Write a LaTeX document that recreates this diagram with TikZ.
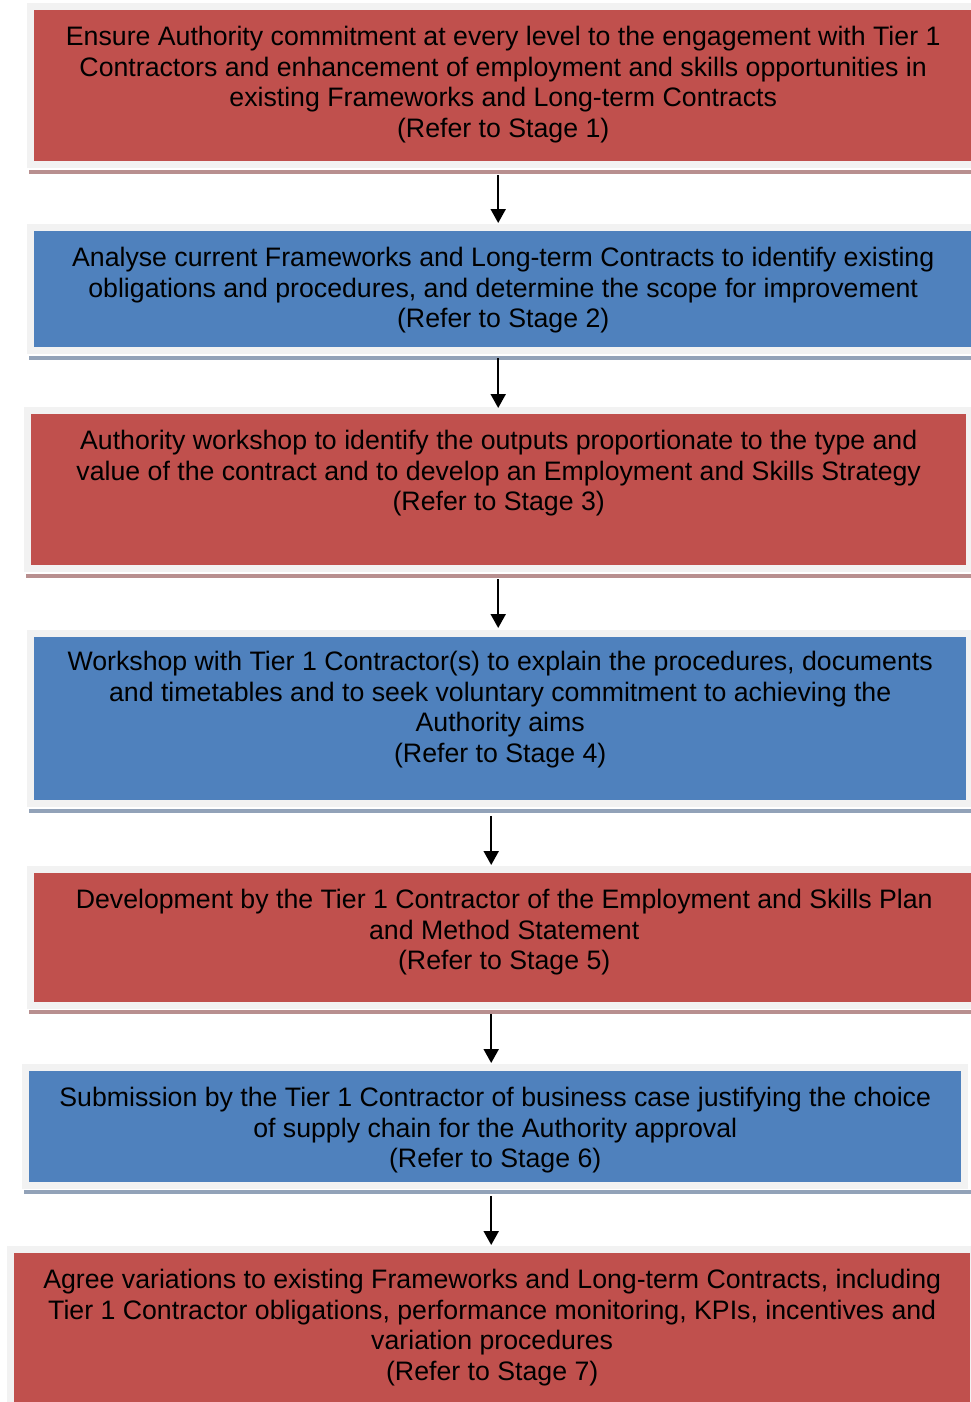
\documentclass[tikz,border=0pt]{standalone}
\usepackage{fontspec}
\setmainfont{Liberation Sans}
\usepackage{xcolor}
\usetikzlibrary{calc,arrows.meta}
\definecolor{stagered}{HTML}{C0504D}
\definecolor{stageblue}{HTML}{4F81BD}
\definecolor{framegray}{HTML}{F2F2F2}
\definecolor{shadowred}{RGB}{184,143,143}
\definecolor{shadowblue}{RGB}{146,162,184}
\tikzstyle{redbox} = [rectangle, anchor=north west, inner sep=0pt, fill=stagered, preaction={draw=framegray, line width=14pt}]
\tikzstyle{bluebox} = [rectangle, anchor=north west, inner sep=0pt, fill=stageblue, preaction={draw=framegray, line width=14pt}]
\tikzstyle{stagetext} = [anchor=north, inner sep=0pt, align=center, text=black, font=\fontsize{26.7}{30.5}\selectfont]
\tikzstyle{arrow} = [line width=2pt, -{Triangle[width=15pt,length=14pt]}]

\begin{document}
\begin{tikzpicture}[x=1pt,y=-1pt]
	\useasboundingbox (0,0) rectangle (970,1402);

	% shadows under the frames
	\fill[shadowred] (29,170) rectangle (980,174);
	\fill[shadowblue] (29,356) rectangle (980,360);
	\fill[shadowred] (26,574) rectangle (980,578);
	\fill[shadowblue] (29,809) rectangle (980,813);
	\fill[shadowred] (29,1010) rectangle (980,1014);
	\fill[shadowblue] (24,1190) rectangle (980,1194);

	\node (s1) [redbox, minimum width=938pt, minimum height=151pt] at (34,10) {};
	\node (s2) [bluebox, minimum width=938pt, minimum height=116pt] at (34,231) {};
	\node (s3) [redbox, minimum width=935pt, minimum height=151pt] at (31,414) {};
	\node (s4) [bluebox, minimum width=932pt, minimum height=163pt] at (34,637) {};
	\node (s5) [redbox, minimum width=940pt, minimum height=129pt] at (34,873) {};
	\node (s6) [bluebox, minimum width=932pt, minimum height=111pt] at (29,1071) {};
	\node (s7) [redbox, minimum width=956pt, minimum height=160pt] at (14,1253) {};

	\node (t1) [stagetext] at ($(s1.north)+(0,16)$) {Ensure Authority commitment at every level to the engagement with Tier 1\\Contractors and enhancement of employment and skills opportunities in\\existing Frameworks and Long-term Contracts\\(Refer to Stage 1)};
	\node (t2) [stagetext] at ($(s2.north)+(0,16)$) {Analyse current Frameworks and Long-term Contracts to identify existing\\obligations and procedures, and determine the scope for improvement\\(Refer to Stage 2)};
	\node (t3) [stagetext] at ($(s3.north)+(0,16)$) {Authority workshop to identify the outputs proportionate to the type and\\value of the contract and to develop an Employment and Skills Strategy\\(Refer to Stage 3)};
	\node (t4) [stagetext] at ($(s4.north)+(0,14)$) {Workshop with Tier 1 Contractor(s) to explain the procedures, documents\\and timetables and to seek voluntary commitment to achieving the\\Authority aims\\(Refer to Stage 4)};
	\node (t5) [stagetext] at ($(s5.north)+(0,16)$) {Development by the Tier 1 Contractor of the Employment and Skills Plan\\and Method Statement\\(Refer to Stage 5)};
	\node (t6) [stagetext] at ($(s6.north)+(0,16)$) {Submission by the Tier 1 Contractor of business case justifying the choice\\of supply chain for the Authority approval\\(Refer to Stage 6)};
	\node (t7) [stagetext] at ($(s7.north)+(0,16)$) {Agree variations to existing Frameworks and Long-term Contracts, including\\Tier 1 Contractor obligations, performance monitoring, KPIs, incentives and\\variation procedures\\(Refer to Stage 7)};

	\draw [arrow] ($(s1.south)+(-5,14)$) -- ($(s2.north)+(-5,-8)$);
	\draw [arrow] ($(s2.south)+(-5,11)$) -- ($(s3.north)+(-0.5,-6)$);
	\draw [arrow] ($(s3.south)+(-0.5,14)$) -- ($(s4.north)+(-2,-9)$);
	\draw [arrow] ($(s4.south)+(-9,16)$) -- ($(s5.north)+(-13,-8)$);
	\draw [arrow] ($(s5.south)+(-13,12)$) -- ($(s6.north)+(-4,-8)$);
	\draw [arrow] ($(s6.south)+(-4,14)$) -- ($(s7.north)+(-1,-8)$);

\end{tikzpicture}
\end{document}
